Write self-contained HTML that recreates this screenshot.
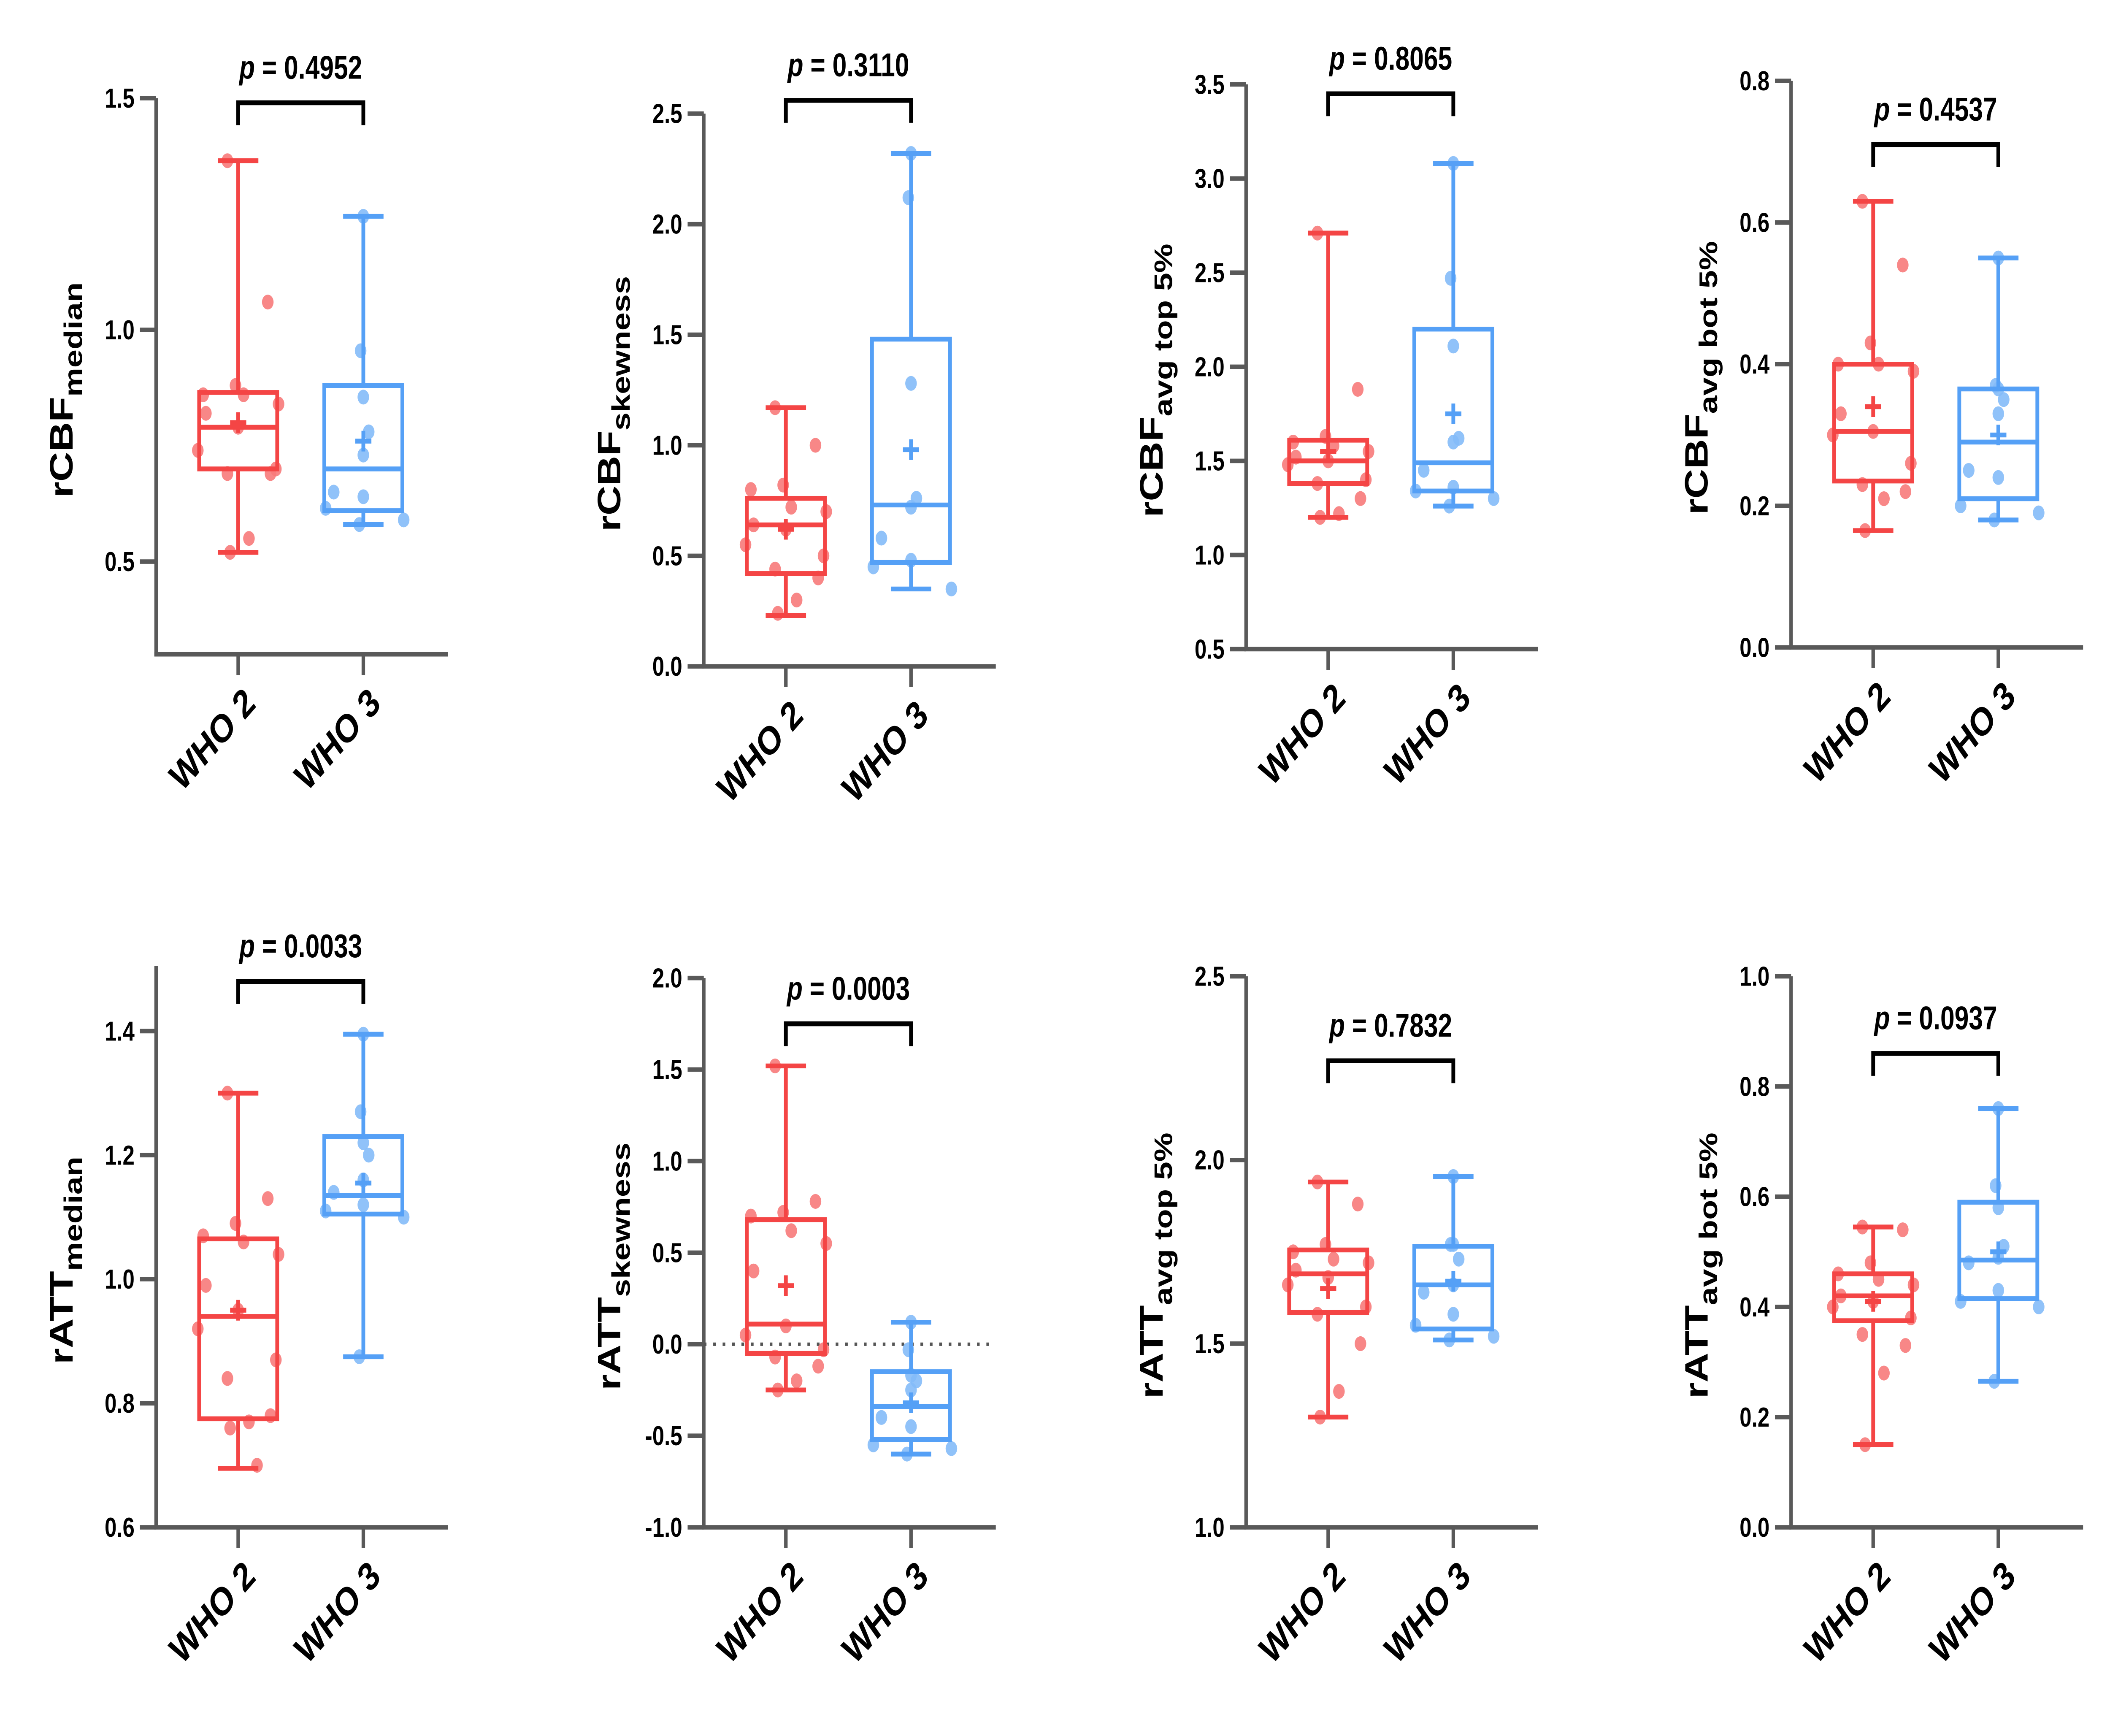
<!DOCTYPE html>
<html><head><meta charset="utf-8"><style>html,body{margin:0;padding:0;background:#fff;width:100vw;height:100vh;overflow:hidden}svg{display:block;width:100vw;height:100vh}</style></head>
<body>
<svg id="fig" viewBox="0 0 1568 1008.2" preserveAspectRatio="none" xmlns="http://www.w3.org/2000/svg" font-family="Liberation Sans, sans-serif"><g id="root"></g></svg>
<script>
const panelNames=["rcbf-median","rcbf-skewness","rcbf-top5","rcbf-bot5","ratt-median","ratt-skewness","ratt-top5","ratt-bot5"];
const labelMain=["rCBF","rCBF","rCBF","rCBF","rATT","rATT","rATT","rATT"];
const labelSub=["median","skewness","avg top 5%","avg bot 5%","median","skewness","avg top 5%","avg bot 5%"];
const pValues=["0.4952","0.3110","0.8065","0.4537","0.0033","0.0003","0.7832","0.0937"];
const categories=["WHO 2","WHO 3"];
const ticks=[[0.5,1.0,1.5],[0,0.5,1,1.5,2,2.5],[0.5,1,1.5,2,2.5,3,3.5],[0,0.2,0.4,0.6,0.8],[0.6,0.8,1.0,1.2,1.4],[-1,-0.5,0,0.5,1,1.5,2],[1,1.5,2,2.5],[0,0.2,0.4,0.6,0.8,1.0]];
const tickLabels=[["0.5","1.0","1.5"],["0.0","0.5","1.0","1.5","2.0","2.5"],["0.5","1.0","1.5","2.0","2.5","3.0","3.5"],["0.0","0.2","0.4","0.6","0.8"],["0.6","0.8","1.0","1.2","1.4"],["-1.0","-0.5","0.0","0.5","1.0","1.5","2.0"],["1.0","1.5","2.0","2.5"],["0.0","0.2","0.4","0.6","0.8","1.0"]];
const yDomain=[[0.3,1.5],[0,2.5],[0.5,3.5],[0,0.8],[0.6,1.505],[-1,2],[1,2.5],[0,1.0]];
// [min,q1,median,q3,max,mean]
const statsWHO2=[[0.52,0.70,0.79,0.865,1.365,0.80],[0.23,0.42,0.64,0.76,1.17,0.62],[1.2,1.38,1.5,1.61,2.71,1.55],[0.165,0.235,0.305,0.40,0.63,0.34],[0.695,0.775,0.94,1.065,1.30,0.95],[-0.25,-0.05,0.11,0.68,1.52,0.32],[1.30,1.585,1.69,1.755,1.94,1.65],[0.15,0.375,0.42,0.46,0.545,0.41]];
const statsWHO3=[[0.58,0.61,0.70,0.88,1.245,0.76],[0.35,0.47,0.73,1.48,2.32,0.98],[1.26,1.34,1.49,2.2,3.08,1.75],[0.18,0.21,0.29,0.365,0.55,0.30],[0.875,1.105,1.135,1.23,1.395,1.155],[-0.60,-0.52,-0.34,-0.15,0.12,-0.32],[1.51,1.54,1.66,1.765,1.955,1.67],[0.265,0.415,0.485,0.59,0.76,0.50]];
const pointsWHO2=[[1.365,1.06,0.88,0.86,0.86,0.84,0.82,0.79,0.74,0.70,0.69,0.69,0.55,0.52],[1.17,1.0,0.82,0.80,0.72,0.70,0.64,0.62,0.55,0.50,0.44,0.40,0.30,0.24],[2.71,1.88,1.63,1.60,1.58,1.55,1.52,1.50,1.48,1.40,1.38,1.30,1.22,1.20],[0.63,0.54,0.43,0.40,0.40,0.39,0.33,0.305,0.30,0.26,0.23,0.22,0.21,0.165],[1.30,1.13,1.09,1.07,1.06,1.04,0.99,0.95,0.92,0.87,0.84,0.78,0.77,0.76,0.70],[1.52,0.78,0.72,0.70,0.62,0.55,0.40,0.10,0.05,-0.03,-0.07,-0.12,-0.20,-0.25],[1.94,1.88,1.77,1.75,1.73,1.72,1.70,1.68,1.66,1.60,1.58,1.50,1.37,1.30],[0.545,0.54,0.48,0.46,0.45,0.44,0.42,0.41,0.40,0.38,0.35,0.33,0.28,0.15]];
const pointsWHO3=[[1.245,0.955,0.855,0.78,0.73,0.65,0.64,0.615,0.59,0.58],[2.32,2.12,1.28,0.76,0.72,0.58,0.48,0.45,0.35],[3.08,2.47,2.11,1.62,1.60,1.45,1.36,1.34,1.30,1.26],[0.55,0.37,0.365,0.35,0.33,0.25,0.24,0.20,0.19,0.18],[1.395,1.27,1.22,1.20,1.16,1.14,1.12,1.11,1.10,0.875],[0.12,-0.03,-0.17,-0.20,-0.25,-0.40,-0.45,-0.55,-0.57,-0.60],[1.955,1.77,1.77,1.73,1.66,1.64,1.58,1.55,1.52,1.51],[0.76,0.62,0.58,0.51,0.49,0.48,0.43,0.41,0.40,0.265]];
const bracketValue=[1.49,2.56,3.45,0.71,1.48,1.75,2.27,0.86];

const layout=[
 {ax:116,top:57,bot:380},{ax:523,top:66,bot:387},{ax:926,top:49,bot:377},{ax:1331,top:47,bot:376},
 {ax:116,top:561,bot:887},{ax:523,top:568,bot:887},{ax:926,top:567,bot:887},{ax:1331,top:567,bot:887}];
const jit=[-8,22,-2,-26,4,30,-24,0,-30,28,-8,24,8,-6,14];
const jit3=[0,-2,0,4,0,-22,0,-28,30,-3];
const NS="http://www.w3.org/2000/svg";
const svg=document.getElementById('root');
function mk(tag,attrs,parent){const e=document.createElementNS(NS,tag);for(const k in attrs)e.setAttribute(k,attrs[k]);(parent||svg).appendChild(e);return e;}
const RED="#f44545",RED_P="#f77a7a",BLUE="#55a0f6",BLUE_P="#84bbf8",AX="#595959";

for(let i=0;i<8;i++){
 const L=layout[i];const g=mk('g',{});
 
 
 const [d0,d1]=yDomain[i];
 const y=v=>L.bot-(v-d0)/(d1-d0)*(L.bot-L.top);
 const x1=L.ax+61,x2=L.ax+154,xend=L.ax+217;
 const ya=mk('line',{x1:L.ax,y1:L.top,x2:L.ax,y2:L.bot+1.2,stroke:AX,'stroke-width':2.6},g);
 
 const xa=mk('line',{x1:L.ax-1.3,y1:L.bot,x2:xend,y2:L.bot,stroke:AX,'stroke-width':2.6},g);
 
 ticks[i].forEach((t,k)=>{
  mk('line',{x1:L.ax-12,y1:y(t),x2:L.ax,y2:y(t),stroke:AX,'stroke-width':2.6},g);
  const tx=mk('text',{x:L.ax-16,y:y(t)+5.5,'text-anchor':'end','font-size':16,'font-weight':'bold',fill:'#000'},g);
  tx.textContent=tickLabels[i][k];
  
 });
 if(i===5){const z=mk('line',{x1:L.ax,y1:y(0),x2:xend,y2:y(0),stroke:'#555','stroke-width':2,'stroke-dasharray':'2,5'},g);
  }
 const cy=(L.top+L.bot)/2+8;
 const yl=mk('text',{transform:`translate(${L.ax-62},${cy}) rotate(-90)`,'text-anchor':'middle','font-size':24,'font-weight':'bold',fill:'#000'},g);
 
 const t1=mk('tspan',{},yl);t1.textContent=labelMain[i];
 const t2=mk('tspan',{dy:7,'font-size':19},yl);t2.textContent=labelSub[i];
 [[x1,statsWHO2[i],pointsWHO2[i],RED,RED_P,jit],[x2,statsWHO3[i],pointsWHO3[i],BLUE,BLUE_P,jit3]].forEach(([cx,s,pts,c,cp,jj],gi)=>{
  mk('line',{x1:cx,y1:L.bot,x2:cx,y2:L.bot+12,stroke:AX,'stroke-width':2.6},g);
  const xl=mk('text',{transform:`translate(${cx+14},${L.bot+30}) rotate(-42)`,'text-anchor':'end','font-size':23,'font-weight':'bold',fill:'#000'},g);
  xl.textContent=categories[gi];
  
  const pg=mk('g',{},g);
  
  pts.forEach((v,k)=>{const p=mk('circle',{cx:cx+jj[k%jj.length],cy:y(v),r:4.3,fill:cp,'fill-opacity':0.9},pg);
   });
  const bg=mk('g',{stroke:c,'stroke-width':2.8,fill:'none'},g);
  
  const [mn,q1,md,q3,mx,mean]=s;
  mk('line',{x1:cx,y1:y(mx),x2:cx,y2:y(q3)},bg);
  mk('line',{x1:cx,y1:y(q1),x2:cx,y2:y(mn)},bg);
  mk('line',{x1:cx-15,y1:y(mx),x2:cx+15,y2:y(mx)},bg);
  mk('line',{x1:cx-15,y1:y(mn),x2:cx+15,y2:y(mn)},bg);
  mk('rect',{x:cx-29,y:y(q3),width:58,height:y(q1)-y(q3)},bg);
  mk('line',{x1:cx-29,y1:y(md),x2:cx+29,y2:y(md)},bg);
  mk('line',{x1:cx-6,y1:y(mean),x2:cx+6,y2:y(mean)},bg);
  mk('line',{x1:cx,y1:y(mean)-6,x2:cx,y2:y(mean)+6},bg);
 });
 const by=y(bracketValue[i]);
 const br=mk('path',{d:`M${x1},${by+13}V${by}H${x2}V${by+13}`,stroke:'#000','stroke-width':2.8,fill:'none'},g);
 
 const pt=mk('text',{x:(x1+x2)/2,y:by-14,'text-anchor':'middle','font-size':19,'font-weight':'bold',fill:'#000'},g);
 
 const a=mk('tspan',{'font-style':'italic'},pt);a.textContent='p';
 const b=mk('tspan',{},pt);b.textContent=' = '+pValues[i];
}
</script>
</body></html>
